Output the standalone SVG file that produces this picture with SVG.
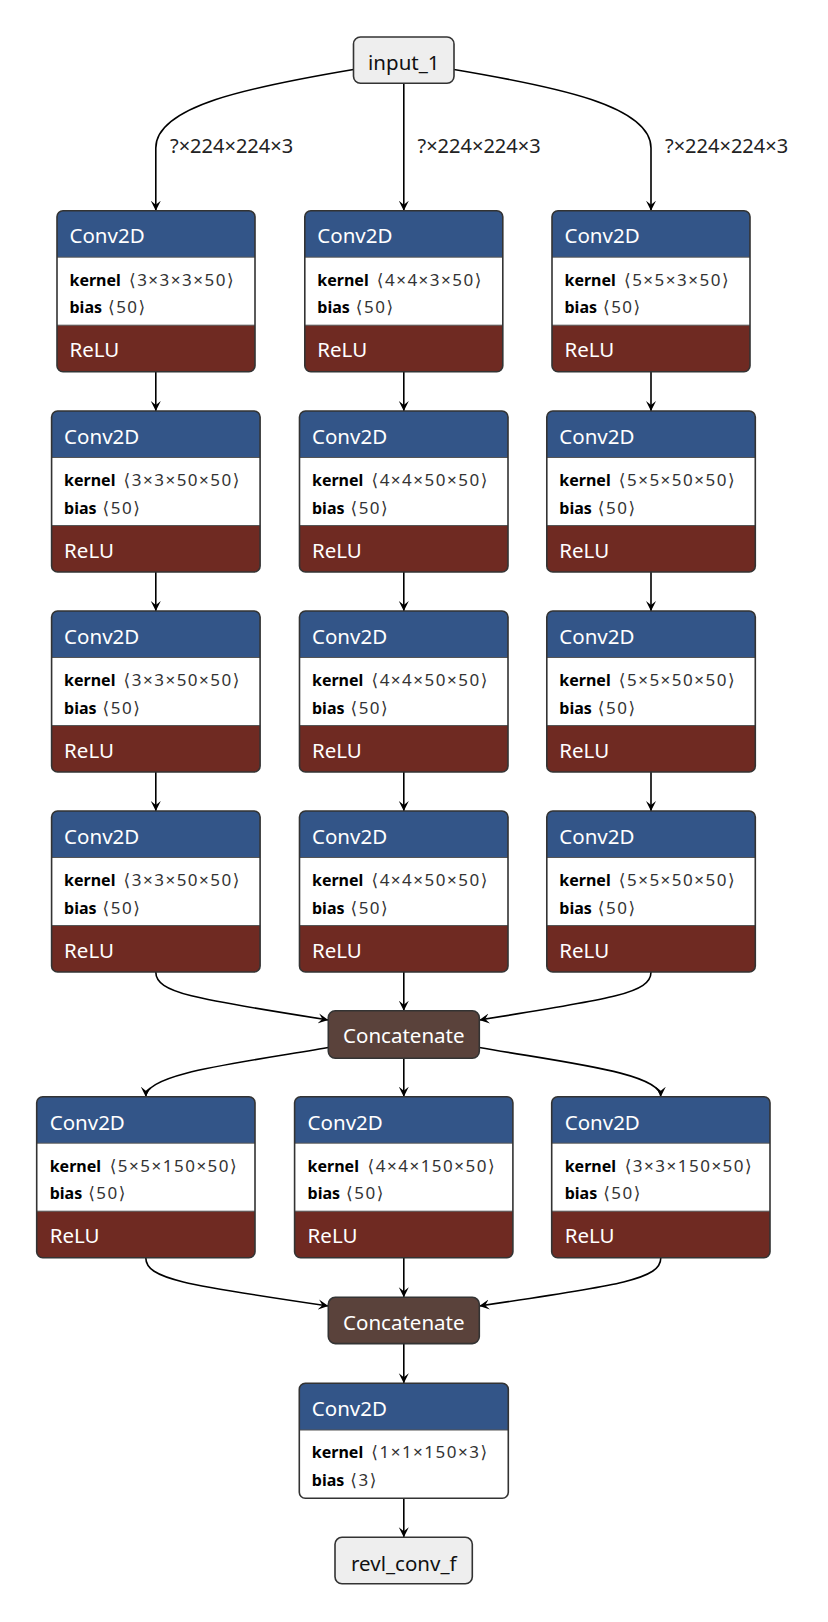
<svg xmlns="http://www.w3.org/2000/svg" xmlns:xlink="http://www.w3.org/1999/xlink" width="828" height="1622" viewBox="0 0 828 1622">
  <style>
    .t { font-family: "Noto Sans", "DejaVu Sans", sans-serif; }
    .hdr { fill: #335588; }
    .act { fill: #6f2a22; }
    .bd { fill: #fff; }
    .sep { fill: none; stroke: #555; stroke-width: 1; }
    .nb { fill: none; stroke: #333; stroke-width: 1.6; }
    .io { fill: #eeeeee; stroke: #333; stroke-width: 1.6; }
    .cat { fill: #5a423b; stroke: #333; stroke-width: 1.6; }
    .ht { font-size: 20.5px; fill: #fff; }
    .it { font-size: 20.5px; fill: #111; }
    .kt { font-size: 16px; fill: #000; }
    .kn { font-weight: bold; }
    .kv { fill: #333; font-size: 17px; letter-spacing: 1.5px; }
    .lbl { font-size: 20px; fill: #222; }
    .edge { fill: none; stroke: #000; stroke-width: 1.6; marker-end: url(#ah); }
  </style>
  <defs>
    <marker id="ah" markerUnits="userSpaceOnUse" markerWidth="11" markerHeight="11" refX="10" refY="5.5" orient="auto" viewBox="0 0 11 11">
      <path d="M0,0.5 L10,5.5 L0,10.5 L4,5.5 Z" fill="#000"/>
    </marker>
    <!-- layer frames: header / attributes / activation -->
    <g id="f198">
      <path class="hdr" d="M0,6A6,6 0 0 1 6,0H192A6,6 0 0 1 198,6V46.5H0Z"/>
      <rect class="bd" y="46.5" width="198" height="68"/>
      <path class="act" d="M0,114.5H198V155A6,6 0 0 1 192,161H6A6,6 0 0 1 0,155Z"/>
      <path class="sep" d="M0,46.5H198M0,114.5H198"/>
      <rect class="nb" width="198" height="161" rx="6"/>
    </g>
    <g id="f208">
      <path class="hdr" d="M0,6A6,6 0 0 1 6,0H202.5A6,6 0 0 1 208.5,6V46.5H0Z"/>
      <rect class="bd" y="46.5" width="208.5" height="68"/>
      <path class="act" d="M0,114.5H208.5V155A6,6 0 0 1 202.5,161H6A6,6 0 0 1 0,155Z"/>
      <path class="sep" d="M0,46.5H208.5M0,114.5H208.5"/>
      <rect class="nb" width="208.5" height="161" rx="6"/>
    </g>
    <g id="f218">
      <path class="hdr" d="M0,6A6,6 0 0 1 6,0H212.3A6,6 0 0 1 218.3,6V46.5H0Z"/>
      <rect class="bd" y="46.5" width="218.3" height="68"/>
      <path class="act" d="M0,114.5H218.3V155A6,6 0 0 1 212.3,161H6A6,6 0 0 1 0,155Z"/>
      <path class="sep" d="M0,46.5H218.3M0,114.5H218.3"/>
      <rect class="nb" width="218.3" height="161" rx="6"/>
    </g>
    <g id="f209">
      <path class="hdr" d="M0,6A6,6 0 0 1 6,0H203A6,6 0 0 1 209,6V46.7H0Z"/>
      <path class="bd" d="M0,46.7H209V109A6,6 0 0 1 203,115H6A6,6 0 0 1 0,109Z"/>
      <path class="sep" d="M0,46.7H209"/>
      <rect class="nb" width="209" height="115" rx="6"/>
    </g>
  </defs>

  <!-- connectors -->
  <g id="edges">
    <path class="edge" d="M353.5,69.5 C250,87 155.8,106 155.8,148 L155.8,210.7"/>
    <path class="edge" d="M403.8,83.3 V210.7"/>
    <path class="edge" d="M454,69.5 C557.5,87 651,106 651,148 L651,210.7"/>

    <path class="edge" d="M155.8,371.7 V411"/>
    <path class="edge" d="M403.8,371.7 V411"/>
    <path class="edge" d="M651,371.7 V411"/>
    <path class="edge" d="M155.8,572 V611"/>
    <path class="edge" d="M403.8,572 V611"/>
    <path class="edge" d="M651,572 V611"/>
    <path class="edge" d="M155.8,772 V811"/>
    <path class="edge" d="M403.8,772 V811"/>
    <path class="edge" d="M651,772 V811"/>

    <path class="edge" d="M155.8,972 C155.8,993 195,999 328.3,1020"/>
    <path class="edge" d="M403.8,972 V1010.7"/>
    <path class="edge" d="M651,972 C651,993 612,999 479.3,1020"/>

    <path class="edge" d="M328.3,1047.5 C240,1063 145.8,1073 145.8,1096.7"/>
    <path class="edge" d="M403.8,1058.3 V1096.7"/>
    <path class="edge" d="M479.3,1047.5 C567.6,1063 660.8,1073 660.8,1096.7"/>

    <path class="edge" d="M145.8,1257.7 C145.8,1279 185,1285 328.3,1306"/>
    <path class="edge" d="M403.8,1257.7 V1297.3"/>
    <path class="edge" d="M660.8,1257.7 C660.8,1279 622,1285 479.3,1306"/>

    <path class="edge" d="M403.8,1343.3 V1383.3"/>
    <path class="edge" d="M403.8,1498.3 V1537.3"/>

    <text class="t lbl" x="170" y="153.3">?×224×224×3</text>
    <text class="t lbl" x="417.5" y="153.3">?×224×224×3</text>
    <text class="t lbl" x="665" y="153.3">?×224×224×3</text>
  </g>

  <!-- input -->
  <g id="input_1">
    <rect class="io" x="353.5" y="37" width="100.5" height="46.3" rx="7"/>
    <text class="t it" x="403.8" y="70" text-anchor="middle">input_1</text>
  </g>

  <!-- first row -->
  <g id="conv2d_1" transform="translate(57,210.7)">
    <use href="#f198"/>
    <text class="t ht" x="12.5" y="32.6">Conv2D</text>
    <text class="t kt" y="75"><tspan class="kn" x="12.5">kernel</tspan><tspan class="kv" x="72">⟨3×3×3×50⟩</tspan></text>
    <text class="t kt" y="102.6"><tspan class="kn" x="12.5">bias</tspan><tspan class="kv" x="51">⟨50⟩</tspan></text>
    <text class="t ht" x="12.5" y="146.5">ReLU</text>
  </g>
  <g id="conv2d_2" transform="translate(304.8,210.7)">
    <use href="#f198"/>
    <text class="t ht" x="12.5" y="32.6">Conv2D</text>
    <text class="t kt" y="75"><tspan class="kn" x="12.5">kernel</tspan><tspan class="kv" x="72">⟨4×4×3×50⟩</tspan></text>
    <text class="t kt" y="102.6"><tspan class="kn" x="12.5">bias</tspan><tspan class="kv" x="51">⟨50⟩</tspan></text>
    <text class="t ht" x="12.5" y="146.5">ReLU</text>
  </g>
  <g id="conv2d_3" transform="translate(552,210.7)">
    <use href="#f198"/>
    <text class="t ht" x="12.5" y="32.6">Conv2D</text>
    <text class="t kt" y="75"><tspan class="kn" x="12.5">kernel</tspan><tspan class="kv" x="72">⟨5×5×3×50⟩</tspan></text>
    <text class="t kt" y="102.6"><tspan class="kn" x="12.5">bias</tspan><tspan class="kv" x="51">⟨50⟩</tspan></text>
    <text class="t ht" x="12.5" y="146.5">ReLU</text>
  </g>

  <!-- second row -->
  <g id="conv2d_4" transform="translate(51.6,411)">
    <use href="#f208"/>
    <text class="t ht" x="12.5" y="32.6">Conv2D</text>
    <text class="t kt" y="75"><tspan class="kn" x="12.5">kernel</tspan><tspan class="kv" x="72">⟨3×3×50×50⟩</tspan></text>
    <text class="t kt" y="102.6"><tspan class="kn" x="12.5">bias</tspan><tspan class="kv" x="51">⟨50⟩</tspan></text>
    <text class="t ht" x="12.5" y="146.5">ReLU</text>
  </g>
  <g id="conv2d_5" transform="translate(299.5,411)">
    <use href="#f208"/>
    <text class="t ht" x="12.5" y="32.6">Conv2D</text>
    <text class="t kt" y="75"><tspan class="kn" x="12.5">kernel</tspan><tspan class="kv" x="72">⟨4×4×50×50⟩</tspan></text>
    <text class="t kt" y="102.6"><tspan class="kn" x="12.5">bias</tspan><tspan class="kv" x="51">⟨50⟩</tspan></text>
    <text class="t ht" x="12.5" y="146.5">ReLU</text>
  </g>
  <g id="conv2d_6" transform="translate(546.8,411)">
    <use href="#f208"/>
    <text class="t ht" x="12.5" y="32.6">Conv2D</text>
    <text class="t kt" y="75"><tspan class="kn" x="12.5">kernel</tspan><tspan class="kv" x="72">⟨5×5×50×50⟩</tspan></text>
    <text class="t kt" y="102.6"><tspan class="kn" x="12.5">bias</tspan><tspan class="kv" x="51">⟨50⟩</tspan></text>
    <text class="t ht" x="12.5" y="146.5">ReLU</text>
  </g>

  <!-- third row -->
  <g id="conv2d_7" transform="translate(51.6,611)">
    <use href="#f208"/>
    <text class="t ht" x="12.5" y="32.6">Conv2D</text>
    <text class="t kt" y="75"><tspan class="kn" x="12.5">kernel</tspan><tspan class="kv" x="72">⟨3×3×50×50⟩</tspan></text>
    <text class="t kt" y="102.6"><tspan class="kn" x="12.5">bias</tspan><tspan class="kv" x="51">⟨50⟩</tspan></text>
    <text class="t ht" x="12.5" y="146.5">ReLU</text>
  </g>
  <g id="conv2d_8" transform="translate(299.5,611)">
    <use href="#f208"/>
    <text class="t ht" x="12.5" y="32.6">Conv2D</text>
    <text class="t kt" y="75"><tspan class="kn" x="12.5">kernel</tspan><tspan class="kv" x="72">⟨4×4×50×50⟩</tspan></text>
    <text class="t kt" y="102.6"><tspan class="kn" x="12.5">bias</tspan><tspan class="kv" x="51">⟨50⟩</tspan></text>
    <text class="t ht" x="12.5" y="146.5">ReLU</text>
  </g>
  <g id="conv2d_9" transform="translate(546.8,611)">
    <use href="#f208"/>
    <text class="t ht" x="12.5" y="32.6">Conv2D</text>
    <text class="t kt" y="75"><tspan class="kn" x="12.5">kernel</tspan><tspan class="kv" x="72">⟨5×5×50×50⟩</tspan></text>
    <text class="t kt" y="102.6"><tspan class="kn" x="12.5">bias</tspan><tspan class="kv" x="51">⟨50⟩</tspan></text>
    <text class="t ht" x="12.5" y="146.5">ReLU</text>
  </g>

  <!-- fourth row -->
  <g id="conv2d_10" transform="translate(51.6,811)">
    <use href="#f208"/>
    <text class="t ht" x="12.5" y="32.6">Conv2D</text>
    <text class="t kt" y="75"><tspan class="kn" x="12.5">kernel</tspan><tspan class="kv" x="72">⟨3×3×50×50⟩</tspan></text>
    <text class="t kt" y="102.6"><tspan class="kn" x="12.5">bias</tspan><tspan class="kv" x="51">⟨50⟩</tspan></text>
    <text class="t ht" x="12.5" y="146.5">ReLU</text>
  </g>
  <g id="conv2d_11" transform="translate(299.5,811)">
    <use href="#f208"/>
    <text class="t ht" x="12.5" y="32.6">Conv2D</text>
    <text class="t kt" y="75"><tspan class="kn" x="12.5">kernel</tspan><tspan class="kv" x="72">⟨4×4×50×50⟩</tspan></text>
    <text class="t kt" y="102.6"><tspan class="kn" x="12.5">bias</tspan><tspan class="kv" x="51">⟨50⟩</tspan></text>
    <text class="t ht" x="12.5" y="146.5">ReLU</text>
  </g>
  <g id="conv2d_12" transform="translate(546.8,811)">
    <use href="#f208"/>
    <text class="t ht" x="12.5" y="32.6">Conv2D</text>
    <text class="t kt" y="75"><tspan class="kn" x="12.5">kernel</tspan><tspan class="kv" x="72">⟨5×5×50×50⟩</tspan></text>
    <text class="t kt" y="102.6"><tspan class="kn" x="12.5">bias</tspan><tspan class="kv" x="51">⟨50⟩</tspan></text>
    <text class="t ht" x="12.5" y="146.5">ReLU</text>
  </g>

  <!-- first merge -->
  <g id="concatenate_1">
    <rect class="cat" x="328.3" y="1010.7" width="151" height="47.6" rx="7"/>
    <text class="t ht" x="403.8" y="1043.3" text-anchor="middle">Concatenate</text>
  </g>

  <!-- fifth row -->
  <g id="conv2d_13" transform="translate(36.7,1096.7)">
    <use href="#f218"/>
    <text class="t ht" x="13" y="33">Conv2D</text>
    <text class="t kt" y="75"><tspan class="kn" x="13">kernel</tspan><tspan class="kv" x="73">⟨5×5×150×50⟩</tspan></text>
    <text class="t kt" y="102.6"><tspan class="kn" x="13">bias</tspan><tspan class="kv" x="51.5">⟨50⟩</tspan></text>
    <text class="t ht" x="13" y="146.5">ReLU</text>
  </g>
  <g id="conv2d_14" transform="translate(294.6,1096.7)">
    <use href="#f218"/>
    <text class="t ht" x="13" y="33">Conv2D</text>
    <text class="t kt" y="75"><tspan class="kn" x="13">kernel</tspan><tspan class="kv" x="73">⟨4×4×150×50⟩</tspan></text>
    <text class="t kt" y="102.6"><tspan class="kn" x="13">bias</tspan><tspan class="kv" x="51.5">⟨50⟩</tspan></text>
    <text class="t ht" x="13" y="146.5">ReLU</text>
  </g>
  <g id="conv2d_15" transform="translate(551.7,1096.7)">
    <use href="#f218"/>
    <text class="t ht" x="13" y="33">Conv2D</text>
    <text class="t kt" y="75"><tspan class="kn" x="13">kernel</tspan><tspan class="kv" x="73">⟨3×3×150×50⟩</tspan></text>
    <text class="t kt" y="102.6"><tspan class="kn" x="13">bias</tspan><tspan class="kv" x="51.5">⟨50⟩</tspan></text>
    <text class="t ht" x="13" y="146.5">ReLU</text>
  </g>

  <!-- second merge -->
  <g id="concatenate_2">
    <rect class="cat" x="328.3" y="1297.3" width="151" height="46.3" rx="7"/>
    <text class="t ht" x="403.8" y="1329.8" text-anchor="middle">Concatenate</text>
  </g>

  <!-- output projection -->
  <g id="conv2d_16" transform="translate(299.3,1383.3)">
    <use href="#f209"/>
    <text class="t ht" x="12.5" y="32.6">Conv2D</text>
    <text class="t kt" y="75"><tspan class="kn" x="12.5">kernel</tspan><tspan class="kv" x="72">⟨1×1×150×3⟩</tspan></text>
    <text class="t kt" y="102.6"><tspan class="kn" x="12.5">bias</tspan><tspan class="kv" x="51">⟨3⟩</tspan></text>
  </g>

  <!-- output -->
  <g id="revl_conv_f">
    <rect class="io" x="335" y="1537.3" width="137.3" height="46.5" rx="7"/>
    <text class="t it" x="403.8" y="1570.5" text-anchor="middle">revl_conv_f</text>
  </g>
</svg>
